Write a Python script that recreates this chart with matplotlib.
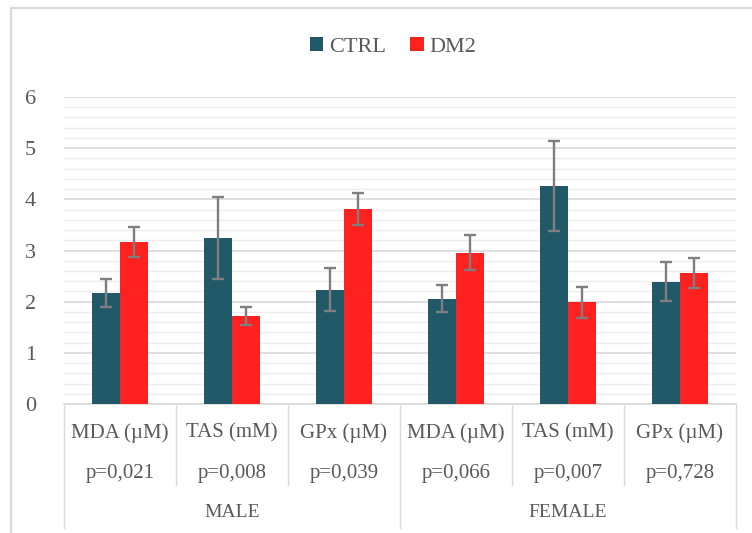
import matplotlib
matplotlib.use("Agg")
import matplotlib.pyplot as plt
from matplotlib.lines import Line2D
import numpy as np

# oxidative stress markers, CTRL vs DM2, split by sex
markers = ["MDA (µM)", "TAS (mM)", "GPx (µM)", "MDA (µM)", "TAS (mM)", "GPx (µM)"]
p_values = ["p=0,021", "p=0,008", "p=0,039", "p=0,066", "p=0,007", "p=0,728"]
groups = ["MALE", "FEMALE"]
ctrl_mean = [2.17, 3.24, 2.23, 2.06, 4.26, 2.39]
ctrl_err = [0.28, 0.80, 0.42, 0.26, 0.88, 0.38]
dm2_mean = [3.16, 1.72, 3.81, 2.96, 1.99, 2.56]
dm2_err = [0.29, 0.18, 0.32, 0.35, 0.30, 0.29]

CTRL_COLOR = "#215968"
DM2_COLOR = "#FF2020"
TEXT_COLOR = "#595959"
GRID_COLOR = "#D9D9D9"
W, H = 752, 533

plt.rcParams["font.family"] = ["Liberation Serif", "DejaVu Serif"]

fig = plt.figure(figsize=(W / 100, H / 100), dpi=100)
ax = fig.add_axes([64 / W, (H - 404) / H, (736 - 64) / W, (404 - 97) / H])

x = np.arange(len(markers))
bw = 0.25
err_kw = dict(ecolor="#7F7F7F", elinewidth=1.7, capsize=4, capthick=1.7)
ax.bar(x - bw / 2, ctrl_mean, bw, yerr=ctrl_err, color=CTRL_COLOR, label="CTRL",
       error_kw=err_kw, zorder=3)
ax.bar(x + bw / 2, dm2_mean, bw, yerr=dm2_err, color=DM2_COLOR, label="DM2",
       error_kw=err_kw, zorder=3)

ax.set_xlim(-0.5, len(markers) - 0.5)
ax.set_ylim(0, 6)
ax.set_yticks(range(0, 7))
ax.set_yticks(np.arange(0, 6.01, 0.2), minor=True)
ax.grid(axis="y", which="major", color=GRID_COLOR, linewidth=1.2, zorder=0)
ax.grid(axis="y", which="minor", color="#EDEDED", linewidth=1.0, zorder=0)
ax.tick_params(axis="y", which="both", length=0, pad=20, labelsize=16, labelcolor=TEXT_COLOR)
ax.set_xticks([])
for side in ["top", "right", "left"]:
    ax.spines[side].set_visible(False)
ax.spines["bottom"].set_color(GRID_COLOR)
ax.spines["bottom"].set_linewidth(1.2)

# two-level category axis
tr = ax.get_xaxis_transform()
for i in range(len(markers)):
    ax.text(i, -0.094, markers[i], transform=tr, ha="center", va="center",
            fontsize=15, color=TEXT_COLOR)
    ax.text(i, -0.225, p_values[i], transform=tr, ha="center", va="center",
            fontsize=15, color=TEXT_COLOR)
for i, g in enumerate(groups):
    ax.text(1 + 3 * i, -0.355, g, transform=tr, ha="center", va="center",
            fontsize=14, color=TEXT_COLOR)
for xs in np.arange(-0.5, len(markers), 1.0):
    bottom = -0.404 if xs in (-0.5, 2.5, 5.5) else -0.264
    ax.add_line(Line2D([xs, xs], [0, bottom], transform=tr, color=GRID_COLOR,
                       linewidth=1.0, clip_on=False))

fig.legend(loc="center", bbox_to_anchor=(393 / W, 1 - 47 / H), ncol=2, frameon=False,
           fontsize=16, labelcolor=TEXT_COLOR, handlelength=0.6, handleheight=0.6,
           handletextpad=0.25, columnspacing=1.1)

# chart frame
fig.add_artist(Line2D([11 / W, 11 / W, 1], [0, 1 - 8 / H, 1 - 8 / H],
                      transform=fig.transFigure, color=GRID_COLOR, linewidth=1.6))

fig.savefig("out.png", dpi=100)
